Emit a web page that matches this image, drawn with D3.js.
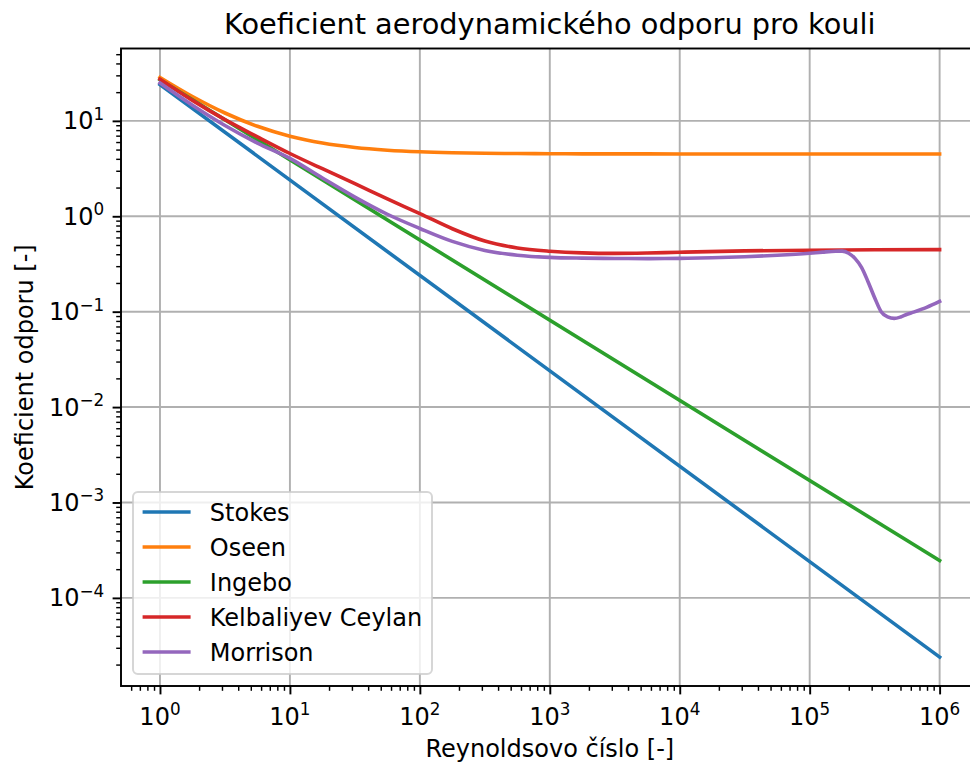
<!DOCTYPE html>
<html>
<head>
<meta charset="utf-8">
<script src="https://cdn.jsdelivr.net/npm/d3@7"></script>
<style>
  body { margin: 0; background: #fff; }
  svg { display: block; }
  text { font-family: "DejaVu Sans", sans-serif; fill: #000; }
</style>
</head>
<body>
<svg id="chart" width="970" height="763"></svg>
<script>
// ---- Data: drag coefficient of a sphere vs. Reynolds number ----
const seriesNames = ["Stokes", "Oseen", "Ingebo", "Kelbaliyev Ceylan", "Morrison"];
const seriesColors = ["#1f77b4", "#ff7f0e", "#2ca02c", "#d62728", "#9467bd"];

const reStokes = [1, 1e6];
const cdStokes = [24, 2.4e-5];

const reOseen = [1, 1.778, 3.162, 5.623, 10, 17.78, 31.62, 56.23, 100, 177.8, 316.2, 562.3,
                 1000, 1778, 3162, 5623, 1e4, 1e5, 1e6];
const cdOseen = [28.5, 18.0, 12.09, 8.77, 6.9, 5.85, 5.26, 4.93, 4.74, 4.635, 4.576, 4.543,
                 4.524, 4.514, 4.508, 4.504, 4.502, 4.5, 4.5];

const reIngebo = [1, 1e6];
const cdIngebo = [27, 2.46e-4];

const reKelbaliyev = [1, 1.778, 3.162, 5.623, 10, 17.78, 31.62, 56.23, 100, 177.8, 316.2, 562.3,
                      1000, 1778, 3162, 5623, 1e4, 3.162e4, 1e5, 3.162e5, 1e6];
const cdKelbaliyev = [27.3, 16.4, 10.3, 6.8, 4.55, 3.15, 2.2, 1.52, 1.067, 0.74, 0.55, 0.465,
                      0.43, 0.413, 0.408, 0.412, 0.42, 0.434, 0.441, 0.445, 0.447];

const reMorrison = [1, 1.778, 3.162, 5.623, 10, 17.78, 31.62, 56.23, 100, 177.8, 316.2, 562.3,
                    1000, 1778, 3162, 5623, 1e4, 1.778e4, 3.162e4, 5.623e4, 1e5,
                    1.259e5, 1.585e5, 1.778e5, 1.995e5, 2.239e5, 2.512e5, 2.818e5, 3.162e5,
                    3.548e5, 3.981e5, 4.467e5, 5.012e5, 5.623e5, 6.310e5, 7.943e5, 1e6];
const cdMorrison = [24.9, 14.6, 8.95, 5.85, 4.05, 2.52, 1.59, 1.05, 0.745, 0.546, 0.439, 0.391,
                    0.371, 0.364, 0.361, 0.36, 0.362, 0.367, 0.376, 0.39, 0.41,
                    0.421, 0.43, 0.431, 0.41, 0.36, 0.29, 0.205, 0.14,
                    0.1, 0.088, 0.085, 0.088, 0.094, 0.099, 0.111, 0.128];

const xMajorExponents = [0, 1, 2, 3, 4, 5, 6];
const yMajorExponents = [-4, -3, -2, -1, 0, 1];

const titleText = "Koeficient aerodynamického odporu pro kouli";
const xLabelText = "Reynoldsovo číslo [-]";
const yLabelText = "Koeficient odporu [-]";

// ---- Layout ----
const W = 970, H = 763;
const ax = { left: 121, right: 978.6, top: 48.5, bottom: 686 };
const PT = 2.4; // px per point

const pairs = [[reStokes, cdStokes], [reOseen, cdOseen], [reIngebo, cdIngebo],
               [reKelbaliyev, cdKelbaliyev], [reMorrison, cdMorrison]];
const series = seriesNames.map((name, i) => ({
  name,
  color: seriesColors[i],
  points: pairs[i][0].map((re, j) => ({ re, cd: pairs[i][1][j] }))
}));

// Log-scale limits with 5 % margin in log space
const allRe = pairs.flatMap(p => p[0]);
const allCd = pairs.flatMap(p => p[1]);
function logPad(vals) {
  const lo = Math.log10(d3.min(vals)), hi = Math.log10(d3.max(vals));
  const pad = 0.05 * (hi - lo);
  return [Math.pow(10, lo - pad), Math.pow(10, hi + pad)];
}

const x = d3.scaleLog().domain(logPad(allRe)).range([ax.left, ax.right]);
const y = d3.scaleLog().domain(logPad(allCd)).range([ax.bottom, ax.top]);

const svg = d3.select("#chart");
svg.append("rect").attr("width", W).attr("height", H).attr("fill", "#fff");

svg.append("defs").append("clipPath").attr("id", "plot-clip")
  .append("rect")
  .attr("x", ax.left).attr("y", ax.top)
  .attr("width", ax.right - ax.left).attr("height", ax.bottom - ax.top);

// Minor tick values (2..9 x 10^k) inside the domain
function minorValues(scale) {
  const [a, b] = scale.domain();
  const out = [];
  for (let e = Math.floor(Math.log10(a)); e <= Math.ceil(Math.log10(b)); e++) {
    for (let m = 2; m <= 9; m++) {
      const v = m * Math.pow(10, e);
      if (v >= a && v <= b) out.push(v);
    }
  }
  return out;
}
const xMajors = xMajorExponents.map(e => Math.pow(10, e));
const yMajors = yMajorExponents.map(e => Math.pow(10, e));

// Grid
const grid = svg.append("g").attr("clip-path", "url(#plot-clip)");
grid.selectAll("line.gx").data(xMajors).join("line")
  .attr("x1", d => x(d)).attr("x2", d => x(d))
  .attr("y1", ax.top).attr("y2", ax.bottom)
  .attr("stroke", "#b0b0b0").attr("stroke-width", 0.8 * PT);
grid.selectAll("line.gy").data(yMajors).join("line")
  .attr("x1", ax.left).attr("x2", ax.right)
  .attr("y1", d => y(d)).attr("y2", d => y(d))
  .attr("stroke", "#b0b0b0").attr("stroke-width", 0.8 * PT);

// Curves
const line = d3.line()
  .x(d => x(d.re))
  .y(d => y(d.cd))
  .curve(d3.curveMonotoneX);

const plot = svg.append("g").attr("clip-path", "url(#plot-clip)");
series.forEach(s => {
  plot.append("path")
    .datum(s.points)
    .attr("d", line)
    .attr("fill", "none")
    .attr("stroke", s.color)
    .attr("stroke-width", 1.5 * PT)
    .attr("stroke-linecap", "square")
    .attr("stroke-linejoin", "round");
});

// Axes (ticks only; labels are drawn with superscripts below)
function styleAxis(g, width) {
  g.select(".domain").remove();
  g.selectAll(".tick line").attr("stroke", "#000").attr("stroke-width", width);
  g.selectAll(".tick text").remove();
}
svg.append("g").attr("transform", `translate(0,${ax.bottom})`)
  .call(d3.axisBottom(x).tickValues(minorValues(x)).tickSize(2 * PT).tickFormat(""))
  .call(g => styleAxis(g, 0.6 * PT));
svg.append("g").attr("transform", `translate(0,${ax.bottom})`)
  .call(d3.axisBottom(x).tickValues(xMajors).tickSize(3.5 * PT).tickFormat(""))
  .call(g => styleAxis(g, 0.8 * PT));
svg.append("g").attr("transform", `translate(${ax.left},0)`)
  .call(d3.axisLeft(y).tickValues(minorValues(y)).tickSize(2 * PT).tickFormat(""))
  .call(g => styleAxis(g, 0.6 * PT));
svg.append("g").attr("transform", `translate(${ax.left},0)`)
  .call(d3.axisLeft(y).tickValues(yMajors).tickSize(3.5 * PT).tickFormat(""))
  .call(g => styleAxis(g, 0.8 * PT));

// Spines
svg.append("rect")
  .attr("x", ax.left).attr("y", ax.top)
  .attr("width", ax.right - ax.left).attr("height", ax.bottom - ax.top)
  .attr("fill", "none").attr("stroke", "#000").attr("stroke-width", 0.8 * PT)
  .attr("stroke-linejoin", "miter");

// Power-of-ten tick labels
function powerLabel(sel, e) {
  sel.append("tspan").text("10");
  sel.append("tspan").attr("font-size", 16.8).attr("dy", -9.6)
    .text(e < 0 ? "\u2212" + (-e) : String(e));
}
svg.append("g").selectAll("text").data(xMajorExponents).join("text")
  .attr("x", e => x(Math.pow(10, e)))
  .attr("y", 725)
  .attr("text-anchor", "middle")
  .attr("font-size", 24)
  .each(function (e) { powerLabel(d3.select(this), e); });

svg.append("g").selectAll("text").data(yMajorExponents).join("text")
  .attr("x", ax.left - 7 * PT)
  .attr("y", e => y(Math.pow(10, e)) + 8.5)
  .attr("text-anchor", "end")
  .attr("font-size", 24)
  .each(function (e) { powerLabel(d3.select(this), e); });

// Titles
svg.append("text")
  .attr("x", (ax.left + ax.right) / 2).attr("y", 34)
  .attr("text-anchor", "middle").attr("font-size", 28.8)
  .text(titleText);
svg.append("text")
  .attr("x", (ax.left + ax.right) / 2).attr("y", 757)
  .attr("text-anchor", "middle").attr("font-size", 24)
  .text(xLabelText);
svg.append("text")
  .attr("transform", `translate(33,${(ax.top + ax.bottom) / 2}) rotate(-90)`)
  .attr("text-anchor", "middle").attr("font-size", 24)
  .text(yLabelText);

// Legend (lower left)
const lg = svg.append("g").attr("transform", `translate(${ax.left + 12},492)`);
lg.append("rect")
  .attr("x", 0).attr("y", 0).attr("width", 299).attr("height", 182)
  .attr("rx", 4.8).attr("ry", 4.8)
  .attr("fill", "#fff").attr("fill-opacity", 0.8)
  .attr("stroke", "#cccccc").attr("stroke-opacity", 0.8).attr("stroke-width", 2);
const rows = lg.selectAll("g.row").data(series).join("g")
  .attr("transform", (d, i) => `translate(0,${20 + i * 35})`);
rows.append("line")
  .attr("x1", 9.6).attr("x2", 57.6).attr("y1", 0).attr("y2", 0)
  .attr("stroke", d => d.color).attr("stroke-width", 1.5 * PT);
rows.append("text")
  .attr("x", 76.8).attr("y", 8.5)
  .attr("font-size", 24)
  .text(d => d.name);
</script>
</body>
</html>
